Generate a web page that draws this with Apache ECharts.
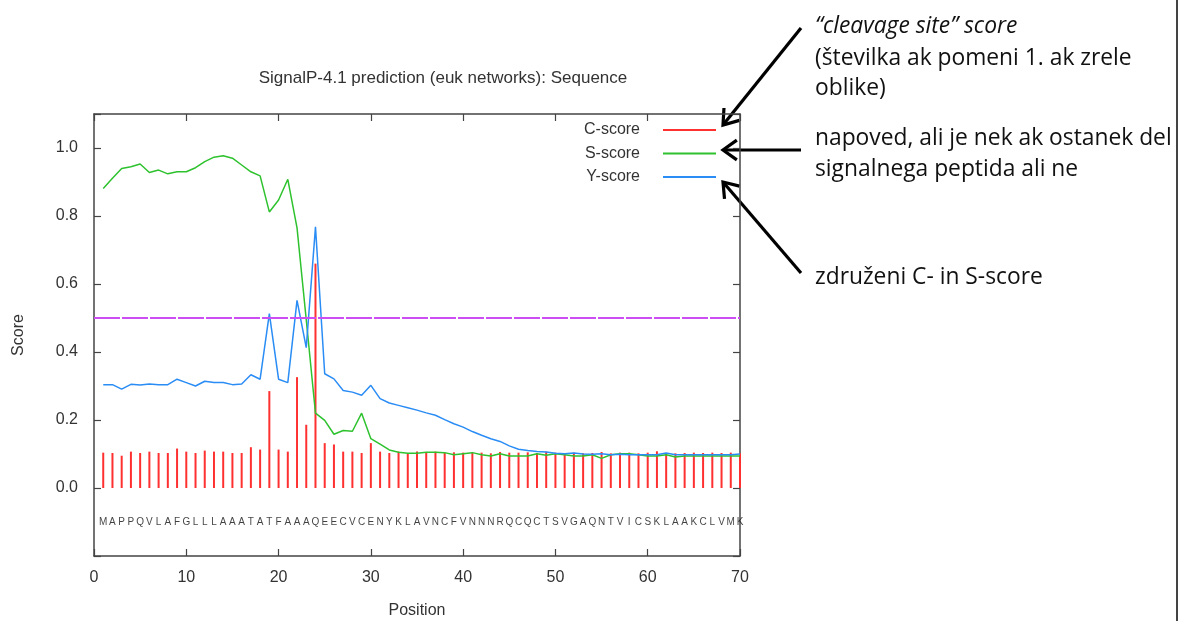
<!DOCTYPE html>
<html>
<head>
<meta charset="utf-8">
<script src="https://cdn.jsdelivr.net/npm/echarts@6/dist/echarts.min.js"></script>
<style>
html, body { margin: 0; padding: 0; background: #fff; }
#chart { width: 1183px; height: 621px; }
</style>
</head>
<body>
<div id="chart"></div>
<script>
// residues of the query sequence, one per position
const residues = 'MAPPQVLAFGLLLAAATATFAAAQEECVCENYKLAVNCFVNNNRQCQCTSVGAQNTVICSKLAAKCLVMK'.split('')
const positions = residues.map((r, i) => i + 1)

const cScore = [
  0.104, 0.103, 0.095, 0.107, 0.103, 0.107, 0.103, 0.103, 0.116, 0.107,
  0.103, 0.110, 0.107, 0.107, 0.103, 0.103, 0.120, 0.113, 0.285, 0.113,
  0.107, 0.326, 0.186, 0.660, 0.132, 0.128, 0.107, 0.107, 0.103, 0.132,
  0.107, 0.103, 0.107, 0.103, 0.107, 0.105, 0.107, 0.104, 0.105, 0.104,
  0.105, 0.104, 0.102, 0.106, 0.104, 0.104, 0.105, 0.103, 0.107, 0.104,
  0.103, 0.104, 0.102, 0.103, 0.106, 0.102, 0.104, 0.104, 0.102, 0.104,
  0.108, 0.103, 0.102, 0.103, 0.104, 0.103, 0.104, 0.103, 0.104, 0.102
]
const sScore = [
  0.881, 0.911, 0.940, 0.945, 0.953, 0.928, 0.935, 0.924, 0.930, 0.930,
  0.942, 0.960, 0.973, 0.977, 0.970, 0.950, 0.930, 0.918, 0.812, 0.847,
  0.908, 0.765, 0.495, 0.220, 0.199, 0.158, 0.169, 0.167, 0.220, 0.145,
  0.129, 0.112, 0.105, 0.102, 0.102, 0.105, 0.105, 0.104, 0.098, 0.101,
  0.104, 0.098, 0.094, 0.101, 0.094, 0.094, 0.094, 0.101, 0.096, 0.101,
  0.098, 0.094, 0.094, 0.098, 0.087, 0.098, 0.101, 0.101, 0.098, 0.094,
  0.094, 0.098, 0.091, 0.094, 0.094, 0.094, 0.094, 0.094, 0.094, 0.094
]
const yScore = [
  0.304, 0.304, 0.291, 0.305, 0.303, 0.306, 0.304, 0.304, 0.320, 0.310,
  0.300, 0.314, 0.310, 0.310, 0.304, 0.306, 0.333, 0.320, 0.513, 0.320,
  0.310, 0.552, 0.413, 0.768, 0.336, 0.321, 0.287, 0.282, 0.273, 0.302,
  0.263, 0.250, 0.243, 0.236, 0.229, 0.221, 0.214, 0.201, 0.189, 0.179,
  0.166, 0.155, 0.145, 0.137, 0.124, 0.114, 0.110, 0.107, 0.106, 0.102,
  0.101, 0.103, 0.100, 0.099, 0.101, 0.098, 0.099, 0.098, 0.098, 0.098,
  0.098, 0.103, 0.098, 0.098, 0.098, 0.098, 0.098, 0.098, 0.098, 0.100
]
const cutoff = 0.5
const seqRow = -0.1
const xTicks = { min: 0, max: 70, interval: 10 }
const yTicks = { min: -0.2, max: 1.1, interval: 0.2 }

const notes = [
  { text: '\u201Ccleavage site\u201D score', y: 25, italic: true },
  { text: '(številka ak pomeni 1. ak zrele', y: 57 },
  { text: 'oblike)', y: 87 },
  { text: 'napoved, ali je nek ak ostanek del', y: 137 },
  { text: 'signalnega peptida ali ne', y: 168 },
  { text: 'združeni C- in S-score', y: 276 }
]
const arrows = [
  [801, 28, 723, 125],
  [801, 150, 723, 150],
  [801, 273, 723, 182]
]

const font = 'Liberation Sans, Arial, sans-serif'
const grey = '#333'

function arrowGraphic(a) {
  const [x1, y1, x2, y2] = a
  const ang = Math.atan2(y2 - y1, x2 - x1)
  const len = 17, spread = 0.62
  const p1 = [x2 - len * Math.cos(ang - spread), y2 - len * Math.sin(ang - spread)]
  const p2 = [x2 - len * Math.cos(ang + spread), y2 - len * Math.sin(ang + spread)]
  return [
    { type: 'line', shape: { x1: x1, y1: y1, x2: x2, y2: y2 }, style: { stroke: '#000', lineWidth: 3.2 } },
    { type: 'polyline', shape: { points: [p1, [x2, y2], p2] }, style: { stroke: '#000', lineWidth: 3.2, fill: null } }
  ]
}

const chart = echarts.init(document.getElementById('chart'))

const graphics = []
notes.forEach(n => {
  graphics.push({
    type: 'text', left: 815, top: n.y - 10,
    style: {
      text: n.text, fill: '#111', fontSize: 22.8,
      fontFamily: 'Open Sans, sans-serif',
      fontStyle: n.italic ? 'italic' : 'normal'
    }
  })
})
arrows.forEach(a => { graphics.push(...arrowGraphic(a)) })
graphics.push({ type: 'line', shape: { x1: 1177, y1: 0, x2: 1177, y2: 621 }, style: { stroke: '#444', lineWidth: 2 } })

const axisLine = { onZero: false, lineStyle: { color: '#444', width: 1.5 } }
const tick = { inside: true, length: 7, lineStyle: { color: '#444', width: 1.2 } }
const yLabel = v => (v < -0.01 || v > 1.01) ? '' : v.toFixed(1)

chart.setOption({
  animation: false,
  backgroundColor: '#fff',
  title: {
    text: 'SignalP-4.1 prediction (euk networks): Sequence',
    left: 443, top: 70, textAlign: 'center', padding: 0,
    textStyle: { fontSize: 17, fontWeight: 'normal', color: grey, fontFamily: font }
  },
  legend: {
    orient: 'vertical', right: 467, top: 122, padding: 0,
    align: 'right', itemWidth: 53, itemHeight: 2, itemGap: 7.5,
    selectedMode: false,
    textStyle: { fontSize: 16, color: grey, fontFamily: font, padding: [0, 18, 0, 0] },
    data: [
      { name: 'C-score', icon: 'rect' },
      { name: 'S-score', icon: 'rect' },
      { name: 'Y-score', icon: 'rect' }
    ]
  },
  grid: { left: 94, right: 443, top: 114, bottom: 65, outerBoundsMode: 'none' },
  xAxis: [
    {
      type: 'value', min: xTicks.min, max: xTicks.max, interval: xTicks.interval,
      name: 'Position', nameLocation: 'middle', nameGap: 47,
      nameTextStyle: { fontSize: 16, color: grey, fontFamily: font },
      axisLine: axisLine, axisTick: tick, splitLine: { show: false },
      axisLabel: { fontSize: 16, color: grey, fontFamily: font, margin: 14 }
    },
    {
      type: 'value', position: 'top', min: xTicks.min, max: xTicks.max, interval: xTicks.interval,
      axisLine: axisLine, axisTick: tick, splitLine: { show: false }, axisLabel: { show: false }
    }
  ],
  yAxis: [
    {
      type: 'value', min: yTicks.min, max: yTicks.max, interval: yTicks.interval,
      name: 'Score', nameLocation: 'middle', nameGap: 67,
      nameTextStyle: { fontSize: 16, color: grey, fontFamily: font },
      axisLine: axisLine, axisTick: tick, splitLine: { show: false },
      axisLabel: { fontSize: 16, color: grey, fontFamily: font, margin: 16, formatter: yLabel }
    },
    {
      type: 'value', position: 'right', min: yTicks.min, max: yTicks.max, interval: yTicks.interval,
      axisLine: axisLine, axisTick: tick, splitLine: { show: false }, axisLabel: { show: false }
    }
  ],
  graphic: graphics,
  series: [
    {
      name: 'C-score', type: 'bar', barWidth: 2,
      itemStyle: { color: '#ff3030' },
      data: positions.map((p, i) => [p, cScore[i]]),
      markLine: {
        silent: true, symbol: ['none', 'none'], label: { show: false },
        lineStyle: { color: '#cc4ef2', width: 2, type: [26, 2] },
        data: [{ yAxis: cutoff }]
      }
    },
    {
      name: 'S-score', type: 'line', showSymbol: false,
      itemStyle: { color: '#2ec22e' },
      lineStyle: { color: '#2ec22e', width: 1.5 },
      data: positions.map((p, i) => [p, sScore[i]])
    },
    {
      name: 'Y-score', type: 'line', showSymbol: false,
      itemStyle: { color: '#2a8cf5' },
      lineStyle: { color: '#2a8cf5', width: 1.5 },
      data: positions.map((p, i) => [p, yScore[i]])
    },
    {
      name: 'sequence', type: 'scatter', symbolSize: 1, silent: true,
      itemStyle: { color: 'rgba(0,0,0,0)' },
      label: {
        show: true, position: 'inside', fontSize: 10, color: '#111', fontFamily: font,
        formatter: p => p.data[2]
      },
      data: positions.map((p, i) => [p, seqRow, residues[i]])
    }
  ]
})
</script>
</body>
</html>
